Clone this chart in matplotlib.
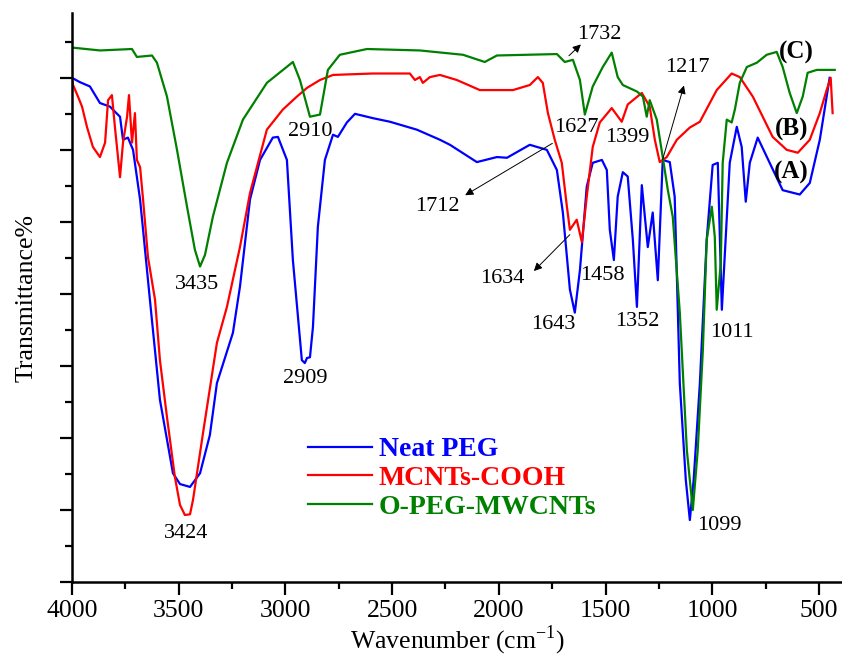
import matplotlib
matplotlib.use("Agg")
import matplotlib.pyplot as plt
from matplotlib.ticker import MultipleLocator

plt.rcParams['font.family'] = ['Liberation Serif', 'DejaVu Serif']

# Neat PEG (A)
peg_wn = [4000, 3963, 3916, 3869, 3822, 3799, 3775, 3761, 3738, 3714, 3681, 3667,
          3635, 3588, 3527, 3494, 3447, 3400, 3354, 3321, 3246, 3213, 3166, 3119,
          3059, 3035, 2993, 2965, 2923, 2909, 2899, 2885, 2871, 2848, 2815, 2777,
          2754, 2712, 2674, 2590, 2510, 2384, 2276, 2229, 2103, 2009, 1962, 1855,
          1775, 1728, 1700, 1667, 1644, 1620, 1588, 1560, 1517, 1494, 1480, 1461,
          1443, 1419, 1396, 1372, 1353, 1330, 1302, 1279, 1255, 1232, 1199, 1176,
          1152, 1124, 1105, 1087, 1058, 1026, 998, 974, 955, 918, 885, 862, 843,
          824, 787, 731, 670, 590, 543, 496, 450]
peg_t = [70.0, 69.4, 68.8, 66.5, 66.0, 65.3, 64.6, 61.4, 61.7, 60.0, 53.1, 48.9,
         39.2, 25.3, 15.1, 13.6, 13.2, 15.1, 20.4, 27.6, 34.6, 41.0, 53.1, 58.6,
         61.7, 61.8, 58.6, 44.7, 30.8, 30.4, 31.1, 31.2, 35.4, 49.3, 58.6, 62.1,
         61.8, 63.8, 65.0, 64.4, 63.9, 62.8, 61.4, 60.7, 58.3, 59.0, 58.9, 60.7,
         60.0, 57.2, 51.3, 40.6, 37.4, 43.3, 54.9, 58.2, 58.6, 57.2, 48.9, 44.7,
         53.5, 56.9, 56.3, 47.5, 38.2, 55.1, 46.5, 51.3, 41.9, 58.6, 58.3, 53.5,
         27.6, 14.2, 8.6, 14.2, 27.6, 47.5, 57.9, 58.2, 37.8, 58.2, 63.2, 60.4, 52.8,
         58.2, 61.7, 58.2, 54.4, 53.8, 55.4, 61.4, 70.0]

# MCNTs-COOH (B)
cooh_wn = [4000, 3995, 3972, 3953, 3930, 3902, 3869, 3845, 3831, 3813, 3799, 3775,
           3761, 3742, 3733, 3719, 3705, 3696, 3681, 3667, 3644, 3611, 3588, 3555,
           3518, 3494, 3471, 3447, 3433, 3386, 3321, 3274, 3213, 3166, 3087, 3012,
           2946, 2899, 2838, 2777, 2590, 2417, 2393, 2370, 2356, 2323, 2276, 2197,
           2089, 1934, 1855, 1817, 1794, 1770, 1738, 1705, 1681, 1667, 1635, 1611,
           1588, 1560, 1527, 1471, 1424, 1396, 1330, 1293, 1269, 1246, 1213, 1166,
           1105, 1058, 979, 909, 871, 810, 717, 651, 599, 543, 496, 464, 445, 436]
cooh_t = [69.7, 69.0, 67.4, 66.0, 63.2, 60.4, 59.0, 61.0, 66.9, 67.6, 63.2, 56.2,
          61.0, 64.6, 67.6, 61.0, 65.1, 58.6, 57.6, 53.1, 45.1, 39.2, 30.8, 22.9,
          14.6, 10.7, 9.3, 9.4, 11.4, 20.7, 33.2, 38.2, 46.5, 54.0, 62.8, 65.6,
          67.4, 68.6, 69.7, 70.4, 70.6, 70.6, 69.7, 70.1, 69.3, 70.1, 70.4, 69.7,
          68.3, 68.3, 69.0, 70.1, 69.3, 65.1, 61.4, 58.2, 52.1, 48.9, 50.3, 47.2,
          53.5, 60.4, 63.8, 65.8, 63.9, 66.3, 67.9, 66.0, 61.4, 58.3, 59.0, 61.4,
          63.1, 63.9, 68.3, 70.6, 70.1, 67.4, 61.8, 60.0, 59.6, 61.4, 65.1, 68.3, 70.0, 65.1]

# O-PEG-MWCNTs (C)
opeg_wn = [4000, 3869, 3719, 3696, 3625, 3602, 3555, 3508, 3461, 3424, 3400, 3377,
           3340, 3274, 3199, 3087, 2965, 2932, 2885, 2838, 2801, 2745, 2618, 2370,
           2168, 2066, 2009, 1728, 1691, 1653, 1620, 1597, 1560, 1513, 1471, 1443,
           1419, 1353, 1325, 1307, 1293, 1260, 1232, 1208, 1185, 1152, 1119, 1091,
           1068, 1044, 1026, 1002, 988, 979, 960, 951, 932, 909, 894, 871, 838, 791,
           745, 698, 670, 637, 604, 576, 553, 510, 426]
opeg_t = [74.2, 73.8, 74.0, 72.9, 73.1, 72.1, 67.4, 60.0, 52.1, 46.1, 43.8, 45.4,
          50.7, 58.2, 64.2, 69.3, 72.2, 69.7, 64.6, 64.9, 71.1, 73.2, 74.0, 73.8,
          73.2, 72.2, 73.1, 73.3, 72.2, 72.5, 69.7, 64.9, 68.8, 71.5, 73.5, 70.1,
          69.0, 68.1, 67.4, 64.6, 66.9, 64.2, 59.0, 54.4, 50.7, 37.4, 18.3, 10.0,
          18.3, 32.2, 47.5, 52.1, 47.9, 37.8, 44.3, 58.2, 64.2, 63.8, 65.6, 69.3, 71.5, 72.1,
          73.2, 73.6, 71.5, 67.9, 65.1, 67.4, 70.7, 71.1, 71.1]

series_names = ['Neat PEG', 'MCNTs-COOH', 'O-PEG-MWCNTs']
series_colors = ['#0000ff', '#ff0000', '#008000']

# peak labels: (text, x, y)
peak_labels = [('3435', 3414, 41.3), ('3424', 3466, 6.7), ('2910', 2885, 62.5),
               ('2909', 2909, 28.3), ('1627', 1635, 63.1), ('1643', 1747, 35.7),
               ('1458', 1513, 42.6), ('1399', 1396, 61.7), ('1352', 1349, 36.1),
               ('1011', 909, 34.6), ('1099', 965, 7.9)]
# arrow labels: (text, text x, text y, arrow tail x, tail y, head x, head y)
arrow_labels = [('1732', 1527, 76.0, 1681, 72.8, 1606, 74.9),
                ('1712', 2286, 52.1, 1738, 61.1, 2169, 53.5),
                ('1634', 1986, 42.2, 1658, 48.5, 1845, 42.9),
                ('1217', 1115, 71.5, 1236, 58.3, 1129, 69.3)]
curve_tags = [('(C)', 604, 73.5), ('(B)', 628, 62.8), ('(A)', 628, 56.9)]

fig = plt.figure(figsize=(8.42, 6.59), dpi=100)
ax = fig.add_axes([72 / 842, 77 / 659, 770 / 842, 569 / 659])

for wn, t, name, c in zip([peg_wn, cooh_wn, opeg_wn], [peg_t, cooh_t, opeg_t],
                          series_names, series_colors):
    ax.plot(wn, t, color=c, lw=1.6, label=name)

for txt, x, y in peak_labels:
    ax.text(x, y, txt, fontsize=16, ha='center', va='center')

for txt, tx, ty, x0, y0, x1, y1 in arrow_labels:
    ax.text(tx, ty, txt, fontsize=16, ha='center', va='center')
    ax.annotate('', xy=(x1, y1), xytext=(x0, y0),
                arrowprops=dict(arrowstyle='-|>', color='k', lw=0.7, mutation_scale=12))

for txt, x, y in curve_tags:
    ax.text(x, y, txt, fontsize=18, fontweight='bold', ha='center', va='center')

ax.set_xlim(4000, 392)
ax.set_ylim(0, 79)
ax.xaxis.set_major_locator(MultipleLocator(500))
ax.xaxis.set_minor_locator(MultipleLocator(250))
ax.yaxis.set_major_locator(MultipleLocator(10))
ax.yaxis.set_minor_locator(MultipleLocator(5))
ax.set_yticklabels([])
ax.tick_params(which='major', direction='out', length=9, width=1.6, labelsize=18.5, pad=4)
ax.tick_params(which='minor', direction='out', length=5, width=1.6)
for s in ['top', 'right']:
    ax.spines[s].set_visible(False)
for s in ['left', 'bottom']:
    ax.spines[s].set_linewidth(1.8)

ax.set_xlabel(r'Wavenumber (cm$^{\mathregular{-1}}$)', fontsize=18.5, labelpad=1)
ax.set_ylabel('Transmittance%', fontsize=18.5, labelpad=12)

leg = ax.legend(loc='upper left', bbox_to_anchor=(0.3065, 0.255), frameon=False,
                borderpad=0, borderaxespad=0, handlelength=2.3, handletextpad=0.25,
                labelspacing=0.12, prop={'weight': 'bold', 'size': 20})
for text, c in zip(leg.get_texts(), series_colors):
    text.set_color(c)

fig.savefig('out.png', dpi=100)
